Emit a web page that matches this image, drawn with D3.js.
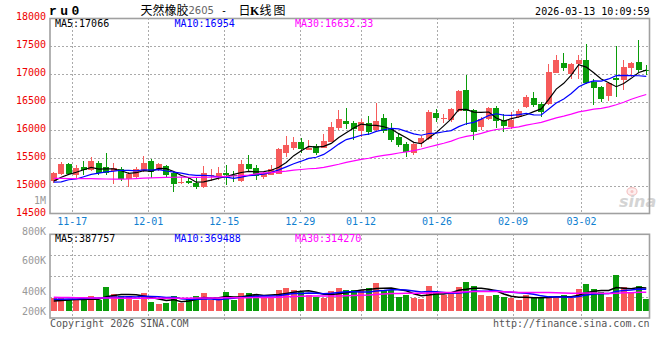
<!DOCTYPE html>
<html lang="zh">
<head>
<meta charset="utf-8">
<title>ru0 日K线图</title>
<script src="https://cdn.jsdelivr.net/npm/d3@7/dist/d3.min.js"></script>
<style>
  body { margin: 0; background: #fff; }
  text { font-family: "DejaVu Sans Mono", monospace; font-size: 10px; }
</style>
</head>
<body>
<script>
  var dates = ["11-12","11-13","11-14","11-17","11-18","11-19","11-20","11-21","11-24","11-25",
    "11-26","11-27","11-28","12-01","12-02","12-03","12-04","12-05","12-08","12-09",
    "12-10","12-11","12-12","12-15","12-16","12-17","12-18","12-19","12-22","12-23",
    "12-24","12-25","12-26","12-29","12-30","12-31","01-05","01-06","01-07","01-08",
    "01-09","01-12","01-13","01-14","01-15","01-16","01-19","01-20","01-21","01-22",
    "01-23","01-26","01-27","01-28","01-29","01-30","02-02","02-03","02-04","02-05",
    "02-06","02-09","02-10","02-11","02-12","02-13","02-24","02-25","02-26","02-27",
    "03-02","03-03","03-04","03-05","03-06","03-09","03-10","03-11","03-12","03-13"];
  var opens = [15085, 15208, 15387, 15190, 15328, 15280, 15405, 15334, 15262, 15298,
    15113, 15160, 15268, 15441, 15280, 15352, 15220, 15050, 15089, 15053,
    14969, 15172, 15148, 15220, 15190, 15089, 15387, 15322, 15160, 15190,
    15208, 15590, 15668, 15788, 15638, 15710, 15680, 15788, 16026, 16158,
    16128, 15985, 16128, 15997, 16206, 16009, 15877, 15746, 15590, 15758,
    15835, 16300, 16200, 16176, 16337, 16713, 16355, 16056, 16187, 16385,
    16176, 16044, 16223, 16403, 16576, 16462, 16462, 17024, 17191, 16994,
    17173, 17251, 16862, 16773, 16606, 16922, 16892, 17101, 17221, 17066];
  var highs = [15250, 15429, 15405, 15364, 15441, 15519, 15441, 15591, 15400, 15340,
    15250, 15328, 15531, 15477, 15400, 15370, 15250, 15148, 15160, 15160,
    15352, 15304, 15340, 15370, 15262, 15459, 15549, 15370, 15250, 15364,
    15668, 15889, 15865, 15847, 15818, 15746, 15925, 16146, 16355, 16385,
    16158, 16194, 16248, 16486, 16283, 16128, 15925, 15788, 15758, 15889,
    16355, 16367, 16278, 16396, 16713, 16982, 16373, 16236, 16415, 16427,
    16283, 16325, 16373, 16624, 16683, 16504, 17179, 17340, 17382, 17191,
    17340, 17537, 16904, 16791, 16862, 17501, 17251, 17221, 17610, 17161];
  var lows = [15040, 15190, 15190, 15113, 15190, 15262, 15190, 15190, 15030, 15089,
    14969, 15130, 15250, 15130, 15262, 15160, 14892, 15030, 15030, 14934,
    14951, 15089, 15100, 15011, 15071, 15065, 15262, 15100, 15119, 15190,
    15202, 15519, 15638, 15579, 15638, 15549, 15668, 15776, 15997, 16015,
    15817, 15877, 15907, 15979, 15937, 15776, 15686, 15519, 15549, 15698,
    15817, 16146, 16116, 16146, 16325, 16086, 15817, 15997, 16176, 16026,
    15966, 16008, 16205, 16385, 16414, 16235, 16444, 17012, 17053, 16904,
    16904, 16821, 16444, 16504, 16522, 16594, 16713, 16940, 17030, 16982];
  var closes = [15225, 15387, 15208, 15322, 15280, 15441, 15232, 15232, 15310, 15113,
    15208, 15292, 15411, 15250, 15381, 15190, 15029, 15058, 15047, 14981,
    15220, 15190, 15232, 15190, 15172, 15387, 15298, 15178, 15220, 15292,
    15656, 15728, 15788, 15656, 15680, 15590, 15800, 16056, 16188, 16110,
    16015, 16146, 15967, 16158, 15985, 15818, 15728, 15608, 15740, 15859,
    16325, 16217, 16210, 16367, 16695, 16343, 15966, 16193, 16396, 16163,
    16068, 16176, 16343, 16594, 16444, 16313, 17042, 17251, 17113, 17173,
    17251, 16833, 16743, 16552, 16844, 16892, 17119, 17203, 17072, 17058];
  var volumes = [220000, 220000, 181000, 181000, 181000, 254000, 192000, 407000, 282000, 254000,
    254000, 181000, 305000, 153000, 119000, 136000, 249000, 136000, 209000, 249000,
    305000, 181000, 181000, 322000, 192000, 305000, 305000, 266000, 237000, 237000,
    362000, 390000, 362000, 322000, 277000, 237000, 226000, 339000, 390000, 350000,
    350000, 350000, 390000, 475000, 362000, 362000, 237000, 277000, 220000, 203000,
    420000, 322000, 277000, 325000, 410000, 500000, 420000, 266000, 254000, 270000,
    237000, 220000, 181000, 265000, 226000, 226000, 250000, 240000, 266000, 220000,
    367000, 452000, 367000, 322000, 237000, 605000, 407000, 322000, 418000, 198000];

  // moving averages whose window starts before the first visible session
  var ma5Head = [15080, 15150, 15200, 15240];
  var ma10Head = [15062, 15066, 15105, 15118, 15158, 15200, 15225, 15245, 15258];
  var ma30Head = [15128, 15128, 15126, 15126, 15124, 15124, 15120, 15118, 15116, 15115,
    15118, 15126, 15134, 15140, 15142, 15146, 15150, 15152, 15150, 15148,
    15150, 15152, 15158, 15165, 15172, 15180, 15190, 15210, 15228];
  var volMa5Head = [170000, 178000, 188000, 195000];
  var volMa10Head = [200000, 200000, 202000, 205000, 210000, 215000, 220000, 225000, 232000];
  var volMa30Head = [232000, 230000, 228000, 226000, 224000, 222000, 221000, 220000, 219000, 218000,
    217000, 216000, 215000, 215000, 215000, 215000, 216000, 217000, 218000, 219000,
    220000, 221000, 222000, 223000, 224000, 225000, 226000, 227000, 228000];

  var priceTicks = [18000, 17500, 17000, 16500, 16000, 15500, 15000, 14500];
  var volTicks = [800000, 600000, 400000, 200000];
  var volTickLabels = ["800K", "600K", "400K", "200K"];
  var dateTicks = ["11-17", "12-01", "12-15", "12-29", "01-12", "01-26", "02-09", "03-02"];
  var priceLegend = ["MA5:17066", "MA10:16954", "MA30:16632.33"];
  var volLegend = ["MA5:387757", "MA10:369488", "MA30:314270"];
  var maColors = ["#000000", "#0000ff", "#ff00ff"];

  var upColor = "#f65b5b";
  var downColor = "#0a9c0a";
  var gridColor = "#aaaaaa";
  var frameColor = "#a0a0a0";

  var left = 50, right = 650;
  var price = { top: 18.2, bottom: 213.5 };
  var vol = { top: 234.3, bottom: 318, base: 311 };

  var x = d3.scaleBand().domain(dates).range([left, right]).paddingInner(0.2).paddingOuter(0.1);
  var xGrid = d3.scaleLinear().domain([0, dates.length - 1]).range([49.5, 649.9]);
  var yPrice = d3.scaleLinear().domain([14500, 18000]).range([price.bottom, price.top]);
  var yVol = d3.scaleLinear().domain([0, 1300000]).range([vol.base, vol.top]);
  var yVolLabel = d3.scaleLinear().domain([200000, 400000, 600000, 800000]).range([311, 291, 260, 231]);

  function movingAvg(values, n, head) {
    return values.map(function (v, i) {
      return i < n - 1 ? head[i] : d3.mean(values.slice(i - n + 1, i + 1));
    });
  }
  function mid(i) { return x(dates[i]) + x.bandwidth() / 2; }

  var priceMa = [movingAvg(closes, 5, ma5Head), movingAvg(closes, 10, ma10Head), movingAvg(closes, 30, ma30Head)];
  var volMa = [movingAvg(volumes, 5, volMa5Head), movingAvg(volumes, 10, volMa10Head), movingAvg(volumes, 30, volMa30Head)];

  var svg = d3.select("body").append("svg")
    .attr("width", 660)
    .attr("height", 360);

  // grid
  var grid = svg.append("g")
    .attr("stroke", gridColor)
    .attr("stroke-dasharray", "2,2")
    .attr("shape-rendering", "crispEdges");
  grid.selectAll(".hgrid")
    .data(priceTicks.slice(1, -1))
    .enter().append("line")
    .attr("x1", left).attr("x2", right)
    .attr("y1", function (d) { return Math.round(yPrice(d)) + 0.5; })
    .attr("y2", function (d) { return Math.round(yPrice(d)) + 0.5; });
  grid.selectAll(".vhgrid")
    .data([1, 2, 3])
    .enter().append("line")
    .attr("x1", left).attr("x2", right)
    .attr("y1", function (d) { return Math.round(vol.top + (vol.bottom - vol.top) * d / 4) + 0.5; })
    .attr("y2", function (d) { return Math.round(vol.top + (vol.bottom - vol.top) * d / 4) + 0.5; });
  grid.selectAll(".vgrid")
    .data(dateTicks)
    .enter().append("line")
    .attr("x1", function (d) { return Math.round(xGrid(dates.indexOf(d))) + 0.5; })
    .attr("x2", function (d) { return Math.round(xGrid(dates.indexOf(d))) + 0.5; })
    .attr("y1", price.top).attr("y2", price.bottom);
  grid.selectAll(".vgrid2")
    .data(dateTicks)
    .enter().append("line")
    .attr("x1", function (d) { return Math.round(xGrid(dates.indexOf(d))) + 0.5; })
    .attr("x2", function (d) { return Math.round(xGrid(dates.indexOf(d))) + 0.5; })
    .attr("y1", vol.top).attr("y2", vol.bottom + 3);

  // sina watermark
  var mark = svg.append("g");
  mark.append("ellipse").attr("cx", 632).attr("cy", 191.5).attr("rx", 5).attr("ry", 3.8)
    .attr("fill", "#fdeeee").attr("stroke", "#f5c4c4").attr("stroke-width", 1.2);
  mark.append("circle").attr("cx", 632).attr("cy", 191.5).attr("r", 1.5).attr("fill", "#f5c4c4");
  mark.append("text").attr("x", 619).attr("y", 206.5)
    .style("font-family", "DejaVu Sans").style("font-size", "16px")
    .style("font-weight", "bold").style("font-style", "italic")
    .attr("fill", "#d4d4d4").text("sina");

  // candles
  var idx = d3.range(dates.length);
  function colorOf(i) { return closes[i] >= opens[i] ? upColor : downColor; }
  var candles = svg.append("g").attr("shape-rendering", "crispEdges");
  candles.selectAll(".wick")
    .data(idx)
    .enter().append("line")
    .attr("x1", function (i) { return Math.floor(mid(i)) + 0.5; })
    .attr("x2", function (i) { return Math.floor(mid(i)) + 0.5; })
    .attr("y1", function (i) { return yPrice(highs[i]); })
    .attr("y2", function (i) { return yPrice(lows[i]); })
    .attr("stroke", colorOf);
  candles.selectAll(".body")
    .data(idx)
    .enter().append("rect")
    .attr("x", function (i) { return x(dates[i]); })
    .attr("width", x.bandwidth())
    .attr("y", function (i) { return yPrice(Math.max(opens[i], closes[i])); })
    .attr("height", function (i) { return Math.max(1, Math.abs(yPrice(opens[i]) - yPrice(closes[i]))); })
    .attr("fill", colorOf);

  // volume bars
  svg.append("g").attr("shape-rendering", "crispEdges")
    .selectAll(".vbar")
    .data(idx)
    .enter().append("rect")
    .attr("x", function (i) { return x(dates[i]); })
    .attr("width", x.bandwidth())
    .attr("y", function (i) { return yVol(volumes[i]); })
    .attr("height", function (i) { return vol.base - yVol(volumes[i]); })
    .attr("fill", colorOf);

  // moving average lines
  var priceLine = d3.line().x(function (d, i) { return mid(i); }).y(function (d) { return yPrice(d); });
  var volLine = d3.line().x(function (d, i) { return mid(i); }).y(function (d) { return yVol(d); });
  svg.append("g").selectAll(".pma")
    .data(priceMa)
    .enter().append("path")
    .attr("d", priceLine)
    .attr("fill", "none")
    .attr("stroke", function (d, k) { return maColors[k]; })
    .attr("stroke-width", 1.2);
  svg.append("g").selectAll(".vma")
    .data(volMa)
    .enter().append("path")
    .attr("d", volLine)
    .attr("fill", "none")
    .attr("stroke", function (d, k) { return maColors[k]; })
    .attr("stroke-width", 1.5);

  // frames
  svg.append("rect").attr("x", left).attr("y", 18.5).attr("width", 599.5).attr("height", price.bottom - 18.5)
    .attr("fill", "none").attr("stroke", frameColor).attr("stroke-width", 1.6);
  svg.append("rect").attr("x", left).attr("y", vol.top).attr("width", 599.5).attr("height", vol.bottom - vol.top)
    .attr("fill", "none").attr("stroke", frameColor).attr("stroke-width", 1.6);

  // axis labels
  svg.selectAll(".plabel")
    .data(priceTicks)
    .enter().append("text")
    .attr("x", 46).attr("y", function (d) { return yPrice(d) + 2; })
    .attr("text-anchor", "end")
    .attr("fill", "#ee0000")
    .text(function (d) { return d; });
  svg.append("text").attr("x", 46).attr("y", yPrice(14750) + 4)
    .attr("text-anchor", "end").attr("fill", "#999").text("1M");
  svg.selectAll(".vlabel")
    .data(volTicks)
    .enter().append("text")
    .attr("x", 46).attr("y", function (d) { return yVolLabel(d) + 3.6; })
    .attr("text-anchor", "end")
    .attr("fill", "#999")
    .text(function (d, k) { return volTickLabels[k]; });
  svg.selectAll(".xlabel")
    .data(dateTicks)
    .enter().append("text")
    .attr("x", function (d) { return xGrid(dates.indexOf(d)); })
    .attr("y", 225)
    .attr("text-anchor", "middle")
    .attr("fill", "#1080d0")
    .text(function (d) { return d; });

  // legends
  var legendX = [55, 174.5, 295];
  svg.selectAll(".plegend")
    .data(priceLegend)
    .enter().append("text")
    .attr("x", function (d, k) { return legendX[k]; })
    .attr("y", 27)
    .attr("fill", function (d, k) { return maColors[k]; })
    .text(function (d) { return d; });
  svg.selectAll(".vlegend")
    .data(volLegend)
    .enter().append("text")
    .attr("x", function (d, k) { return legendX[k]; })
    .attr("y", 242)
    .attr("fill", function (d, k) { return maColors[k]; })
    .text(function (d) { return d; });

  // header
  svg.append("text").attr("x", 49).attr("y", 15)
    .style("font-family", "Liberation Mono").style("font-size", "13px").style("font-weight", "bold")
    .style("letter-spacing", "3.5px")
    .text("ru0");
  var cjk = "'Noto Sans CJK SC', sans-serif";
  svg.append("text").attr("x", 140.5).attr("y", 14.5).style("font-family", cjk).style("font-size", "12px").text("天然橡胶");
  svg.append("text").attr("x", 188.5).attr("y", 13.5).style("font-family", "DejaVu Sans").style("font-size", "10px")
    .attr("fill", "#666").text("2605");
  svg.append("text").attr("x", 221).attr("y", 13.5).text("-");
  svg.append("text").attr("x", 238.5).attr("y", 14.5).style("font-family", cjk).style("font-size", "12px").text("日");
  svg.append("text").attr("x", 250).attr("y", 14.5).style("font-family", "Liberation Serif").style("font-size", "12px")
    .style("font-weight", "bold").text("K");
  svg.append("text").attr("x", 259.5).attr("y", 14.5).style("font-family", cjk).style("font-size", "12px").text("线");
  svg.append("text").attr("x", 273.5).attr("y", 14.5).style("font-family", cjk).style("font-size", "12px").text("图");
  svg.append("text").attr("x", 649.5).attr("y", 15).attr("text-anchor", "end").text("2026-03-13 10:09:59");

  // footer
  svg.append("text").attr("x", 50).attr("y", 327).attr("fill", "#555").text("Copyright 2026 SINA.COM");
  svg.append("text").attr("x", 649.5).attr("y", 327).attr("text-anchor", "end").attr("fill", "#555")
    .text("http://finance.sina.com.cn");
</script>
</body>
</html>
